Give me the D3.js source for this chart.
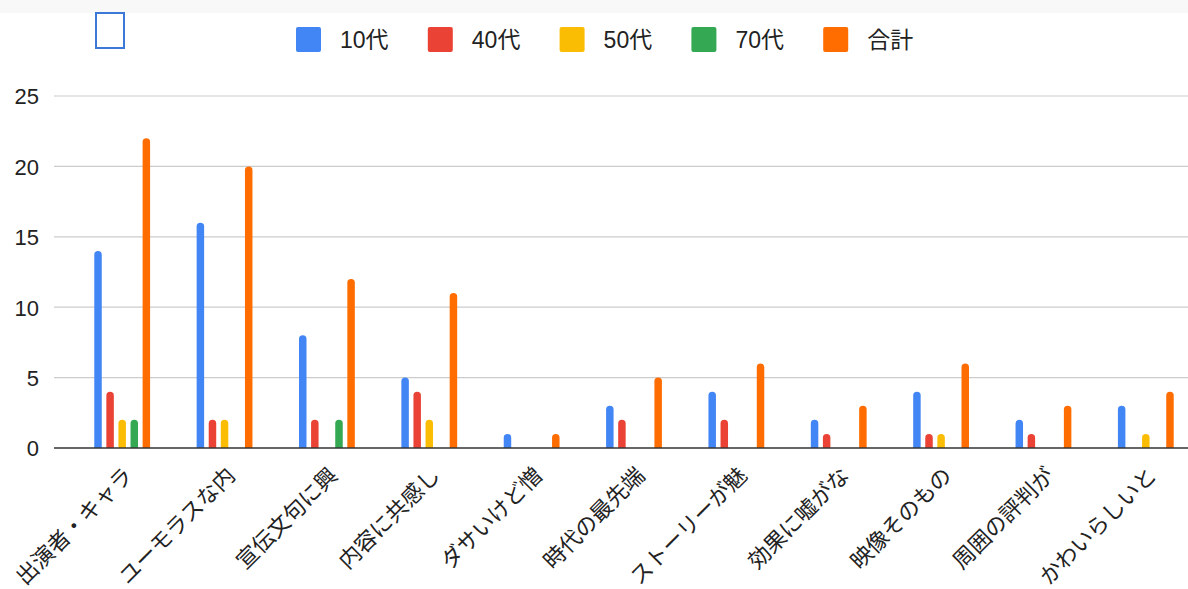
<!DOCTYPE html>
<html>
<head>
<meta charset="utf-8">
<script src="https://cdn.jsdelivr.net/npm/d3@7"></script>
<style>
  html, body { margin: 0; padding: 0; background: #fff; }
  svg { display: block; font-family: "Liberation Sans", Arial, "Noto Sans CJK JP", sans-serif; }
</style>
</head>
<body>
<svg id="chart" width="1188" height="589"></svg>
<script>
// Survey answers by age group
const categories = ["出演者・キャラ", "ユーモラスな内", "宣伝文句に興", "内容に共感し", "ダサいけど憎",
  "時代の最先端", "ストーリーが魅", "効果に嘘がな", "映像そのもの", "周囲の評判が", "かわいらしいと"];
const seriesNames = ["10代", "40代", "50代", "70代", "合計"];
const seriesColors = ["#4285F4", "#EA4335", "#FBBC04", "#34A853", "#FF6D01"];
const teens    = [14, 16, 8, 5, 1, 3, 4, 2, 4, 2, 3];
const forties  = [4, 2, 2, 4, 0, 2, 2, 1, 1, 1, 0];
const fifties  = [2, 2, 0, 2, 0, 0, 0, 0, 1, 0, 1];
const seventies = [2, 0, 2, 0, 0, 0, 0, 0, 0, 0, 0];
const totals   = [22, 20, 12, 11, 1, 5, 6, 3, 6, 3, 4];
const yTicks = [0, 5, 10, 15, 20, 25];

const seriesValues = [teens, forties, fifties, seventies, totals];

const W = 1188, H = 589;
const svg = d3.select("#chart");

// faint strip along the top edge
svg.append("rect").attr("x", 0).attr("y", 0).attr("width", W).attr("height", 13).attr("fill", "#f8f8f8");

// empty outlined box at top-left
svg.append("rect").attr("x", 96).attr("y", 13).attr("width", 28).attr("height", 35)
  .attr("fill", "none").attr("stroke", "#3c78d8").attr("stroke-width", 2);

const plotLeft = 54;
const y = d3.scaleLinear().domain([0, 25]).range([448, 96]);
const x = d3.scaleBand().domain(categories).range([71, 1197]).paddingInner(0).paddingOuter(0);
const xs = d3.scaleBand().domain(seriesNames).range([-32.5, 32.5]).padding(0.38);

// gridlines
svg.append("g").selectAll("line").data(yTicks.filter(t => t > 0)).join("line")
  .attr("x1", plotLeft).attr("x2", W)
  .attr("y1", d => y(d)).attr("y2", d => y(d))
  .attr("stroke", "#cccccc").attr("stroke-width", 1.2);

// y-axis labels
const yAxis = d3.axisLeft(y).tickValues(yTicks).tickSize(0).tickPadding(0);
const yg = svg.append("g").attr("transform", "translate(39,0)").call(yAxis);
yg.select(".domain").remove();
yg.selectAll("text").attr("font-size", 22).attr("fill", "#222").attr("dy", "0.36em")
  .attr("font-family", "'Liberation Sans', Arial, sans-serif");

// bars with rounded tops
const barW = xs.bandwidth();
const rad = barW / 2;
const bars = [];
seriesValues.forEach((vals, si) => {
  vals.forEach((v, ci) => {
    if (v > 0) bars.push({ cat: categories[ci], s: seriesNames[si], v, color: seriesColors[si] });
  });
});
svg.append("g").selectAll("path").data(bars).join("path")
  .attr("fill", d => d.color)
  .attr("d", d => {
    const cx = x(d.cat) + x.bandwidth() / 2 + xs(d.s);
    const y0 = y(0), y1 = y(d.v);
    const r = Math.min(rad, (y0 - y1));
    return `M${cx},${y0} L${cx},${y1 + r} A${r},${r} 0 0 1 ${cx + r},${y1} L${cx + barW - r},${y1} A${r},${r} 0 0 1 ${cx + barW},${y1 + r} L${cx + barW},${y0} Z`;
  });

// baseline
svg.append("line").attr("x1", plotLeft).attr("x2", W).attr("y1", y(0)).attr("y2", y(0))
  .attr("stroke", "#333").attr("stroke-width", 1.6);

// category labels, rotated
const xAxis = d3.axisBottom(x).tickSize(0).tickPadding(0);
const xg = svg.append("g").attr("transform", `translate(0,${y(0)})`).call(xAxis);
xg.select(".domain").remove();
xg.selectAll("text")
  .attr("font-size", 22).attr("fill", "#222")
  .attr("font-family", "'Noto Sans CJK JP', sans-serif")
  .attr("text-anchor", "end")
  .attr("dy", null).attr("y", 0)
  .attr("transform", "translate(12,29) rotate(-45)");

// legend
const legend = svg.append("g");
const items = legend.selectAll("g").data(seriesNames).join("g")
  .attr("transform", (d, i) => `translate(${296 + i * 131.8},27)`);
items.append("rect").attr("width", 25).attr("height", 25).attr("rx", 2)
  .attr("fill", (d, i) => seriesColors[i]);
items.append("text").attr("x", 44).attr("y", 12.5).attr("dy", "0.36em")
  .attr("font-size", 23).attr("fill", "#222")
  .attr("font-family", "'Liberation Sans', Arial, 'Noto Sans CJK JP', sans-serif")
  .text(d => d);
</script>
</body>
</html>
